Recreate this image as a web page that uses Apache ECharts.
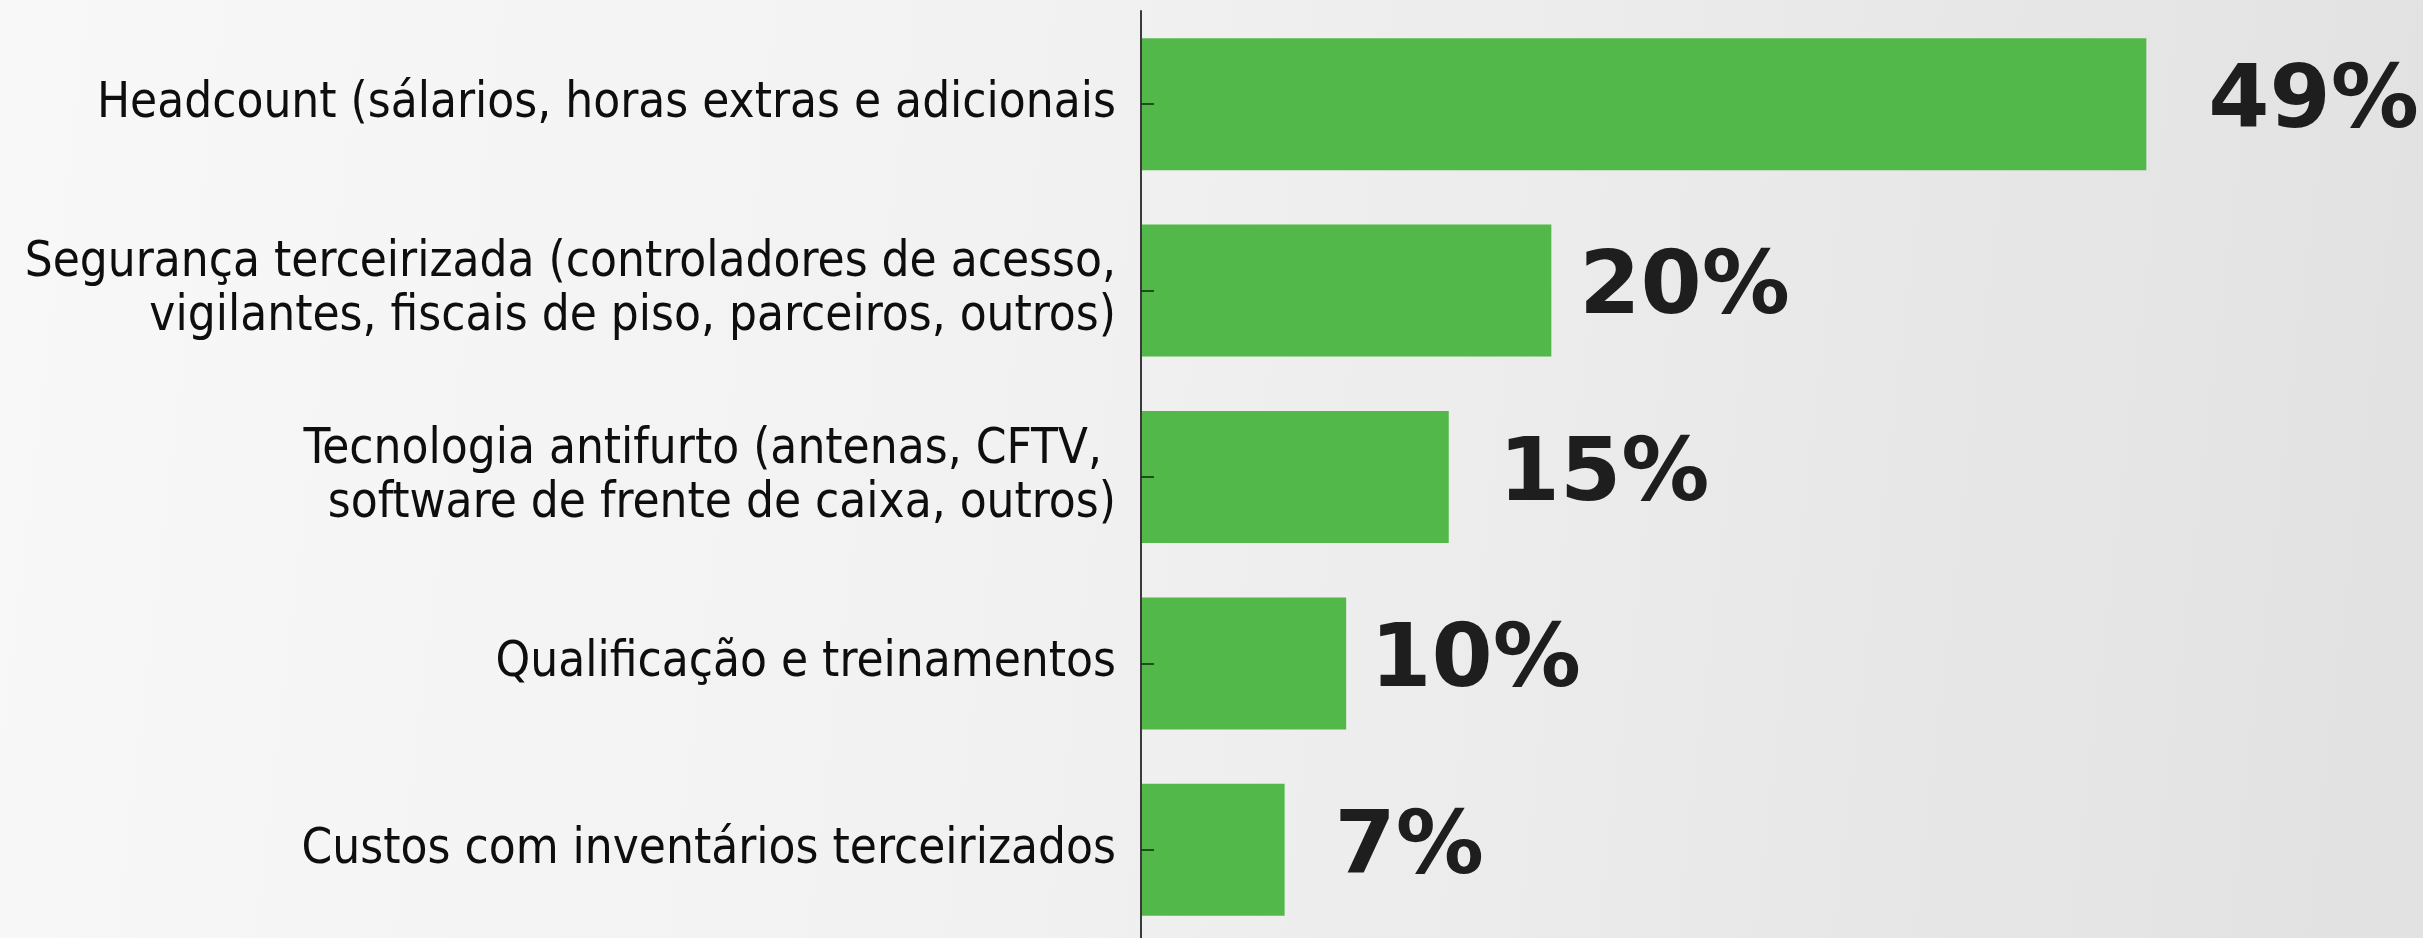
<!DOCTYPE html>
<html>
<head>
<meta charset="utf-8">
<script src="https://cdn.jsdelivr.net/npm/echarts@6/dist/echarts.min.js"></script>
<style>
  html, body { margin: 0; padding: 0; }
  #chart { width: 2423px; height: 938px; }
</style>
</head>
<body>
<div id="chart"></div>
<script>
const categories = [
  'Headcount (sálarios, horas extras e adicionais',
  'Segurança terceirizada (controladores de acesso,\nvigilantes, fiscais de piso, parceiros, outros)',
  'Tecnologia antifurto (antenas, CFTV, \nsoftware de frente de caixa, outros)',
  'Qualificação e treinamentos',
  'Custos com inventários terceirizados'
]
const values = [49, 20, 15, 10, 7]
// gap between each bar end and its label, as in the picture
const labelGaps = [62, 28, 50, 24, 50]

const myChart = echarts.init(document.getElementById('chart'))

const option = {
  backgroundColor: {
    type: 'linear', x: 0, y: 0, x2: 1, y2: 0.3,
    colorStops: [
      { offset: 0, color: '#f8f8f8' },
      { offset: 0.45, color: '#f1f1f1' },
      { offset: 1, color: '#e2e2e2' }
    ]
  },
  grid: {
    left: 1141,
    right: 51,
    top: 11,
    height: 932,
    containLabel: false,
    outerBoundsMode: 'none'
  },
  xAxis: {
    type: 'value',
    min: 0,
    max: 60,
    show: false
  },
  yAxis: {
    type: 'category',
    inverse: true,
    data: categories,
    zlevel: 1,
    z: 5,
    axisLine: {
      lineStyle: { color: '#3a3a3a', width: 2 }
    },
    axisTick: {
      show: true,
      inside: true,
      alignWithLabel: true,
      length: 13,
      lineStyle: { color: 'rgba(20,50,20,0.8)', width: 2 }
    },
    axisLabel: {
      margin: 25,
      color: '#0e0e0e',
      fontFamily: '"Liberation Sans Narrow", "DejaVu Sans Condensed", sans-serif',
      fontSize: 49,
      lineHeight: 54,
      align: 'right'
    }
  },
  series: [
    {
      type: 'bar',
      barWidth: 132,
      data: values.map((v, i) => ({
        value: v,
        label: { distance: labelGaps[i] }
      })),
      itemStyle: { color: '#52b84a' },
      label: {
        show: true,
        position: 'right',
        formatter: '{c}%',
        color: '#1e1e1e',
        fontFamily: '"DejaVu Sans", sans-serif',
        fontWeight: 'bold',
        fontSize: 88
      }
    }
  ]
}
option && myChart.setOption(option)
</script>
</body>
</html>
